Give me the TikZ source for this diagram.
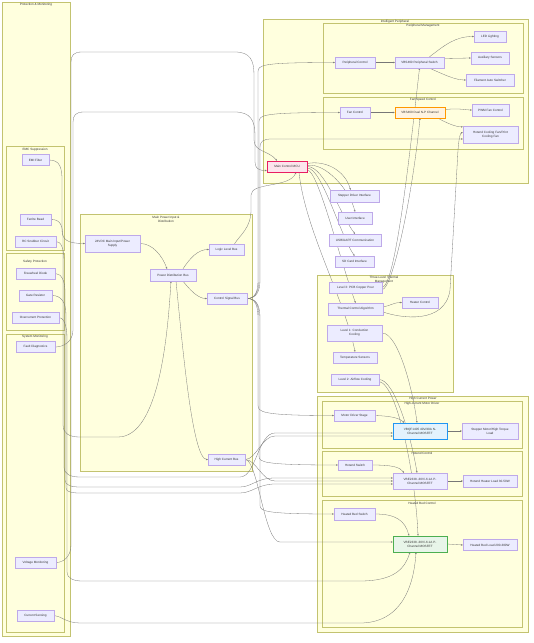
\documentclass[tikz,border=0pt]{standalone}
\usepackage{fontspec}
\setmainfont{Liberation Sans}
\usetikzlibrary{arrows.meta}
\definecolor{cfill}{HTML}{FFFFDE}
\definecolor{cdraw}{HTML}{AAAA33}
\definecolor{nfill}{HTML}{ECECFF}
\definecolor{ndraw}{HTML}{9370DB}
\definecolor{txt}{HTML}{333333}
\definecolor{ecol}{HTML}{777777}
\definecolor{mcufill}{HTML}{FCE4EC}
\definecolor{mcudraw}{HTML}{E91E63}
\definecolor{fanfill}{HTML}{FFF3E0}
\definecolor{fandraw}{HTML}{FF9800}
\definecolor{blufill}{HTML}{E3F2FD}
\definecolor{bludraw}{HTML}{2196F3}
\definecolor{grnfill}{HTML}{E8F5E9}
\definecolor{grndraw}{HTML}{4CAF50}
\newcommand\myfs{\fontsize{3.1}{3.8}\selectfont}
\pgfdeclarelayer{bg}
\pgfdeclarelayer{edges}
\pgfsetlayers{bg,edges,main}
\begin{document}
\begin{tikzpicture}[x=1pt,y=-1pt,
  nbox/.style={draw=ndraw!60, fill=nfill, line width=0.35pt, inner sep=0pt, align=center, font=\myfs, text=txt},
  clus/.style={draw=cdraw!70, fill=cfill, line width=0.4pt},
  ctitle/.style={font=\myfs, text=txt, inner sep=0pt, align=center},
  edge/.style={draw=ecol, line width=0.3pt, -{Stealth[length=1.8pt,width=1.6pt]}}]
\useasboundingbox (0,0) rectangle (534,643);

% ---------- nodes ----------
\node[nbox, minimum width=27pt, minimum height=11pt] (emi) at (35.5,160) {EMI Filter};
\node[nbox, minimum width=31pt, minimum height=11pt] (ferrite) at (35.5,219.5) {Ferrite Bead};
\node[nbox, minimum width=41pt, minimum height=11pt] (rc) at (35.5,241.5) {RC Snubber Circuit};
\node[nbox, minimum width=39pt, minimum height=11pt] (free) at (35.5,273.5) {Freewheel Diode};
\node[nbox, minimum width=33pt, minimum height=11pt] (gate) at (35.5,295.5) {Gate Resistor};
\node[nbox, minimum width=47pt, minimum height=11pt] (over) at (35.5,317.5) {Overcurrent Protection};
\node[nbox, minimum width=39pt, minimum height=11pt] (fault) at (35.5,347) {Fault Diagnostics};
\node[nbox, minimum width=41pt, minimum height=11pt] (volt) at (35.5,562.5) {Voltage Monitoring};
\node[nbox, minimum width=37pt, minimum height=11pt] (cur) at (35.5,615.5) {Current Sensing};

\node[nbox, minimum width=55pt, minimum height=17pt] (psu) at (112.5,243.5) {24VDC Main Input/Power\\Supply};
\node[nbox, minimum width=46pt, minimum height=12pt] (pdb) at (173,275) {Power Distribution Bus};
\node[nbox, minimum width=35pt, minimum height=11pt] (logic) at (226.5,249.5) {Logic Level Bus};
\node[nbox, minimum width=40pt, minimum height=11pt] (ctrl) at (227,298.5) {Control Signal Bus};
\node[nbox, minimum width=37pt, minimum height=11pt] (hc) at (226.5,459.5) {High Current Bus};

\node[nbox, minimum width=40pt, minimum height=11pt] (periphctrl) at (355,62.5) {Peripheral Control};
\node[nbox, minimum width=49pt, minimum height=11pt] (qperiph) at (419.5,62.5) {VBS460 Peripheral Switch};
\node[nbox, minimum width=32pt, minimum height=11pt] (led) at (490,36.5) {LED Lighting};
\node[nbox, minimum width=38pt, minimum height=12pt] (aux) at (490,58) {Auxiliary Sensors};
\node[nbox, minimum width=48pt, minimum height=12pt] (fil) at (490,80) {Filament Auto Switcher};
\node[nbox, minimum width=30pt, minimum height=11pt] (fanctrl) at (355,112.5) {Fan Control};
\node[nbox, draw=fandraw, fill=fanfill, line width=0.5pt, minimum width=50pt, minimum height=11pt] (qfan) at (420,112.5) {VBS460 Dual N-P Channel};
\node[nbox, minimum width=37pt, minimum height=12pt] (pwmfan) at (490.5,110) {PWM Fan Control};
\node[nbox, minimum width=55pt, minimum height=17pt] (hotfan) at (490.5,134.5) {Hotend Cooling Fan/Print\\Cooling Fan};
\node[nbox, draw=mcudraw, fill=mcufill, line width=0.6pt, minimum width=40pt, minimum height=11pt] (mcu) at (287,166.5) {Main Control MCU};

\node[nbox, minimum width=49pt, minimum height=12pt] (sdi) at (354.5,196) {Stepper Driver Interface};
\node[nbox, minimum width=34pt, minimum height=12pt] (ui) at (355,218) {User Interface};
\node[nbox, minimum width=52pt, minimum height=12pt] (usb) at (355,240) {USB/UART Communication};
\node[nbox, minimum width=39pt, minimum height=11pt] (sd) at (354.5,261.5) {SD Card Interface};

\node[nbox, minimum width=53pt, minimum height=11pt] (level3) at (355.5,287.5) {Level 3: PCB Copper Pour};
\node[nbox, minimum width=36pt, minimum height=11pt] (heater) at (420,302.5) {Heater Control};
\node[nbox, minimum width=55pt, minimum height=12pt] (tca) at (355.5,309) {Thermal Control Algorithm};
\node[nbox, minimum width=55pt, minimum height=16pt] (level1) at (354.5,333) {Level 1: Conduction\\Cooling};
\node[nbox, minimum width=44pt, minimum height=11pt] (temp) at (355,357.5) {Temperature Sensors};
\node[nbox, minimum width=48pt, minimum height=11pt] (level2) at (355,379.5) {Level 2: Airflow Cooling};

\node[nbox, minimum width=41pt, minimum height=11pt] (motordrv) at (354.5,415.5) {Motor Driver Stage};
\node[nbox, draw=bludraw, fill=blufill, line width=0.5pt, minimum width=54pt, minimum height=16pt] (vbqf) at (420,431) {VBQF1405 40V/40A N-\\Channel MOSFET};
\node[nbox, minimum width=56pt, minimum height=16pt] (stepper) at (490,431) {Stepper Motor/High Torque\\Load};
\node[nbox, minimum width=34pt, minimum height=10pt] (hotsw) at (355,465) {Hotend Switch};
\node[nbox, minimum width=54pt, minimum height=16pt] (qhot) at (420,481) {VBE2338 -30V/-6.1A P-\\Channel MOSFET};
\node[nbox, minimum width=54pt, minimum height=12pt] (hotload) at (490,481) {Hotend Heater Load 30-50W};
\node[nbox, minimum width=41pt, minimum height=12pt] (bedsw) at (354.5,514) {Heated Bed Switch};
\node[nbox, draw=grndraw, fill=grnfill, line width=0.5pt, minimum width=54pt, minimum height=16pt] (qbed) at (420,544) {VBE2338 -30V/-6.1A P-\\Channel MOSFET};
\node[nbox, minimum width=54pt, minimum height=11pt] (bedload) at (490,545) {Heated Bed Load 200-300W};

% ---------- clusters ----------
\begin{pgfonlayer}{bg}
\fill[white] (0,0) rectangle (534,643);
\draw[clus] (2,2) rectangle (70,636);
\node[ctitle] (tprot) at (36,5) {Protection \& Monitoring};
\draw[clus] (6,146) rectangle (64,250);
\node[ctitle] (temc) at (35,149.5) {EMC Suppression};
\draw[clus] (6,253) rectangle (64,330);
\node[ctitle] (tsafe) at (35,262) {Safety Protection};
\draw[clus] (6,334) rectangle (64,632);
\node[ctitle] (tsys) at (35,337) {System Monitoring};

\draw[clus] (80,214) rectangle (252,471);
\node[ctitle] (tmain) at (166,219.5) {Main Power Input \&\\Distribution};

\draw[clus] (263,19) rectangle (528,183);
\node[ctitle] (tint) at (395,21.5) {Intelligent Peripheral};
\draw[clus] (323,23) rectangle (523,93);
\node[ctitle] (tpm) at (423,26) {Peripheral Management};
\draw[clus] (323,97) rectangle (523,149);
\node[ctitle] (tfan) at (423,100) {Fan/Speed Control};

\draw[clus] (317,275) rectangle (453,392);
\node[ctitle] (tthermal) at (384,279.5) {Three-Level Thermal\\Management};

\draw[clus] (317,396) rectangle (528,632);
\node[ctitle] (thcp) at (423,399) {High Current Power};
\draw[clus] (322,401) rectangle (522,448);
\node[ctitle] (tmot) at (422,404) {High-current Motor Driver};
\draw[clus] (322,451) rectangle (522,496);
\node[ctitle] (thot) at (422,453.5) {Hotend Control};
\draw[clus] (322,500) rectangle (522,627);
\node[ctitle] (tbed) at (422,503) {Heated Bed Control};
\end{pgfonlayer}

% ---------- edges ----------
\begin{pgfonlayer}{edges}
% main power
\draw[edge] (psu.east) .. controls (152,243.5) and (162,255) .. ([xshift=-6pt]pdb.north);
\draw[edge] ([xshift=10pt]pdb.north) .. controls (190,258) and (198,249.5) .. (logic.west);
\draw[edge] ([xshift=10pt]pdb.south) .. controls (190,290) and (198,298.5) .. (ctrl.west);
\draw[edge] ([xshift=3pt]pdb.south) .. controls (182,340) and (192,459.5) .. (hc.west);
% protection
\draw[edge] (emi.east) .. controls (60,160) and (62,168) .. (62,180) -- (62,230) .. controls (62,240) and (68,243.5) .. (psu.west);
\draw[edge] (ferrite.east) .. controls (61,219.5) and (63,226) .. (63,240) -- (63,425) .. controls (63,434) and (70,437) .. (80,437) -- (118,437) .. controls (160,437) and (168,330) .. ([xshift=-2pt]pdb.south);
\draw[edge] (rc.east) .. controls (61,241.5) and (64,248) .. (64,262) -- (64,467) .. controls (64,474) and (70,477) .. (80,477) -- (240,477) .. controls (256,477) and (258,433) .. (275,433) -- ([yshift=-2pt]vbqf.west);
\draw[edge] (free.east) .. controls (61,273.5) and (65,280) .. (65,292) -- (65,480) .. controls (65,485) and (71,487) .. (80,487) -- (240,487) .. controls (252,487) and (256,478) .. (275,478) -- ([yshift=3pt]qhot.west);
\draw[edge] (gate.east) .. controls (61,295.5) and (66,302) .. (66,315) -- (66,488) .. controls (66,492) and (72,493) .. (80,493) -- (240,493) .. controls (252,493) and (258,484) .. (275,484) -- ([yshift=-3pt]qhot.west);
\draw[edge] (over.east) .. controls (63,317.5) and (67,324) .. (67,338) -- (67,572) .. controls (67,578) and (73,581) .. (82,581) -- (360,581) .. controls (395,581) and (405,568) .. ([xshift=-10pt]qbed.south);
\draw[edge] (cur.east) .. controls (60,615.5) and (66,623) .. (80,623) -- (360,623) .. controls (402,623) and (414,585) .. ([xshift=-4pt]qbed.south);
\draw[edge] (volt.east) .. controls (64,562.5) and (71,556) .. (71,545) -- (71,62) .. controls (71,55) and (74,52) .. (82,52) -- (235,52) .. controls (250,52) and (254,60) .. (254,75) -- (254,140) .. controls (254,152) and (268,150) .. ([xshift=-10pt]mcu.north);
\draw[edge] (fault.east) .. controls (63,347) and (73,342) .. (73,330) -- (73,122) .. controls (73,115) and (76,112) .. (84,112) -- (235,112) .. controls (250,112) and (255,120) .. (255,135) -- (255,162) .. controls (255,168) and (258,170.5) .. ([yshift=-4pt]mcu.west);
% buses
\draw[edge] ([xshift=8pt]logic.north) .. controls (240,235) and (251,228) .. (251,210) -- (251,195) .. controls (251,182) and (290,188) .. ([xshift=9pt]mcu.south);
\draw[edge] (ctrl.east) .. controls (255,298.5) and (258,292) .. (258,280) -- (258,72) .. controls (258,65) and (261,62.5) .. (periphctrl.west);
\draw[edge] (ctrl.east) .. controls (255,298.5) and (259,292) .. (259,280) -- (259,122) .. controls (259,115) and (262,112.5) .. (fanctrl.west);
\draw[edge] (ctrl.east) .. controls (256,298.5) and (260,292) .. (260,280) -- (260,148) .. controls (260,141) and (263,139) .. (272,139) -- ([yshift=-4.5pt]hotfan.west);
\draw[edge] (ctrl.east) .. controls (255,298.5) and (258,305) .. (258,318) -- (258,405) .. controls (258,412) and (261,415.5) .. (motordrv.west);
\draw[edge] (ctrl.east) .. controls (256,298.5) and (259,305) .. (259,318) -- (259,456) .. controls (259,462) and (262,465) .. (hotsw.west);
\draw[edge] (ctrl.east) .. controls (256,298.5) and (260,305) .. (260,318) -- (260,505) .. controls (260,511) and (263,514) .. (bedsw.west);
\draw[edge] (hc.east) .. controls (256,459.5) and (262,436) .. (275,436) -- ([yshift=-5pt]vbqf.west);
\draw[edge] (hc.east) .. controls (256,459.5) and (262,481) .. (275,481) -- (qhot.west);
\draw[edge] (hc.east) .. controls (258,459.5) and (264,542) .. (280,542) -- ([yshift=2pt]qbed.west);
% MCU
\draw[edge] ([yshift=3pt]mcu.east) .. controls (325,160) and (345,170) .. ([xshift=-4pt]sdi.north);
\draw[edge] ([yshift=1pt]mcu.east) .. controls (325,162) and (350,190) .. (ui.north);
\draw[edge] (mcu.east) .. controls (325,166.5) and (340,215) .. (usb.north);
\draw[edge] ([yshift=-1.5pt]mcu.east) .. controls (322,168) and (340,235) .. (sd.north);
\draw[edge] ([yshift=-3.5pt]mcu.east) .. controls (318,170) and (340,260) .. (tca.north);
\draw[edge] ([xshift=12pt]mcu.south) .. controls (305,230) and (345,300) .. (temp.north);
% thermal
\draw[edge] (level3.east) .. controls (395,285) and (408,170) .. (qperiph.south);
\draw[edge] ([yshift=-2pt]level3.east) .. controls (392,290) and (412,200) .. (qfan.south);
\draw[edge] (level1.east) .. controls (398,333) and (413,390) .. ([xshift=-3pt]vbqf.north);
\draw[edge] (level2.east) .. controls (395,379.5) and (412,440) .. ([xshift=-3pt]qhot.north);
\draw[edge] ([yshift=-2pt]level2.east) .. controls (398,385) and (416,480) .. ([xshift=-2pt]qbed.north);
\draw[edge] ([yshift=2pt]tca.east) .. controls (392,305) and (394,302.5) .. (heater.west);
\draw[edge] ([yshift=-3pt]tca.east) .. controls (400,318) and (445,325) .. (450,290) -- (458,150) .. controls (459,138) and (460,133) .. ([yshift=2pt]hotfan.west);
% peripherals
\draw[edge] (periphctrl.east) -- (qperiph.west);
\draw[edge] ([xshift=10pt]qperiph.north) .. controls (445,45) and (455,36.5) .. (led.west);
\draw[edge] ([yshift=4pt]qperiph.east) -- (aux.west);
\draw[edge] ([xshift=10pt]qperiph.south) .. controls (445,75) and (455,80) .. (fil.west);
\draw[edge] (fanctrl.east) -- (qfan.west);
\draw[edge] ([yshift=3pt]qfan.east) .. controls (460,108) and (465,110) .. (pwmfan.west);
\draw[edge] ([xshift=18pt]qfan.south) .. controls (445,122) and (455,127) .. ([yshift=-1pt]hotfan.north west);
% high current
\draw[edge] (motordrv.east) .. controls (390,416) and (400,418) .. ([xshift=-16pt]vbqf.north);
\draw[edge] (vbqf.east) -- (stepper.west);
\draw[edge] (hotsw.east) .. controls (392,465) and (400,467) .. ([xshift=-16pt]qhot.north);
\draw[edge] (qhot.east) -- (hotload.west);
\draw[edge] (bedsw.east) .. controls (395,514) and (405,520) .. ([xshift=-11pt]qbed.north);
\draw[edge] (qbed.east) -- (bedload.west);
\end{pgfonlayer}
\end{tikzpicture}
\end{document}
